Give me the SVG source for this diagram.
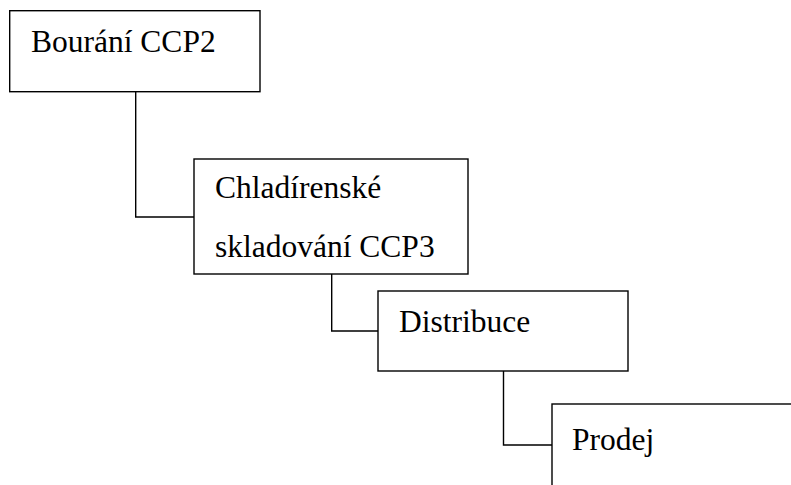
<svg xmlns="http://www.w3.org/2000/svg" width="791" height="485" viewBox="0 0 791 485">
<style>
.box{fill:#fff;stroke:#000;stroke-width:1.4}
.conn{fill:none;stroke:#000;stroke-width:1.4}
.t{font-family:"Liberation Serif","Times New Roman",serif;font-size:31.5px;fill:#000}
</style>
<rect width="791" height="485" fill="#fff"/>
<g id="connectors">
<path class="conn" d="M135.7,91.7 V217 H194"/>
<path class="conn" d="M331.7,274 V331 H378"/>
<path class="conn" d="M503.5,371 V445 H552"/>
</g>
<g id="n1">
<rect class="box" x="9.7" y="10.7" width="250.3" height="81"/>
<text class="t" x="31" y="52">Bourání CCP2</text>
</g>
<g id="n2">
<rect class="box" x="194" y="159" width="274" height="115"/>
<text class="t" x="215" y="198">Chladírenské</text>
<text class="t" x="215" y="257">skladování CCP3</text>
</g>
<g id="n3">
<rect class="box" x="378" y="291" width="250" height="80"/>
<text class="t" x="399" y="332">Distribuce</text>
</g>
<g id="n4">
<rect class="box" x="552" y="404" width="260" height="100"/>
<text class="t" x="572" y="450">Prodej</text>
</g>
</svg>
